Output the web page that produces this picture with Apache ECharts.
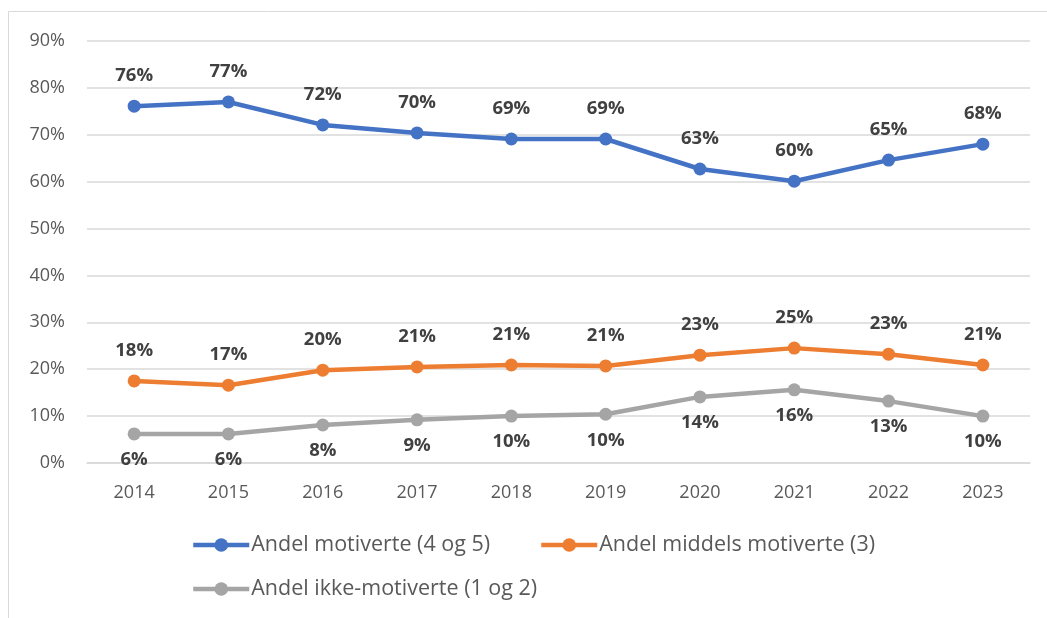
<!DOCTYPE html>
<html>
<head>
<meta charset="utf-8">
<script src="https://cdn.jsdelivr.net/npm/echarts@6/dist/echarts.min.js"></script>
<style>
  html, body { margin: 0; padding: 0; background: #fff; }
  #chart { width: 1047px; height: 618px; }
</style>
</head>
<body>
<div id="chart"></div>
<script>
// categories and values (in %)
var years = ['2014', '2015', '2016', '2017', '2018', '2019', '2020', '2021', '2022', '2023'];
var motiverte = [76.1, 77.0, 72.1, 70.4, 69.1, 69.1, 62.7, 60.1, 64.6, 68.0];
var middels = [17.5, 16.6, 19.8, 20.5, 20.9, 20.7, 23.0, 24.5, 23.2, 20.9];
var ikke = [6.2, 6.2, 8.1, 9.2, 10.0, 10.4, 14.1, 15.6, 13.2, 10.0];
var seriesNames = ['Andel motiverte (4 og 5)', 'Andel middels motiverte (3)', 'Andel ikke-motiverte (1 og 2)'];

var font = '"Open Sans", "Noto Sans", sans-serif';

var chart = echarts.init(document.getElementById('chart'));

function makeSeries(name, data, color, labelPos, dist) {
    return {
        name: name,
        type: 'line',
        data: data,
        symbol: 'circle',
        symbolSize: 13,
        lineStyle: { width: 4.5, color: color },
        itemStyle: { color: color },
        label: {
            show: true,
            position: labelPos,
            distance: dist,
            fontFamily: font,
            fontSize: 18.5,
            fontWeight: 'bold',
            color: '#404040',
            formatter: function (p) { return Math.round(p.value) + '%'; }
        },
        emphasis: { disabled: true },
        animation: false
    };
}

function legendAt(name, left, top) {
    return {
        data: [name],
        left: left,
        top: top,
        itemWidth: 56,
        itemHeight: 17,
        itemGap: 0,
        padding: 0,
        lineStyle: { width: 4.5 },
        textStyle: { fontFamily: font, fontSize: 21.5, color: '#595959', padding: [0, 0, 0, -3] }
    };
}

var option = {
    backgroundColor: '#fff',
    graphic: [{
        type: 'rect',
        shape: { x: 8.5, y: 11.5, width: 1100, height: 700 },
        style: { fill: 'none', stroke: '#d9d9d9', lineWidth: 1 },
        silent: true
    }],
    legend: [
        legendAt(seriesNames[0], 191, 534),
        legendAt(seriesNames[1], 539, 534),
        legendAt(seriesNames[2], 191, 578)
    ],
    grid: { left: 87, right: 17, top: 41, bottom: 155 },
    xAxis: {
        type: 'category',
        data: years,
        axisTick: { show: false },
        axisLine: { show: true, lineStyle: { color: '#d9d9d9', width: 1.5 } },
        axisLabel: { fontFamily: font, fontSize: 18, color: '#595959', margin: 21 }
    },
    yAxis: {
        type: 'value',
        min: 0,
        max: 90,
        interval: 10,
        axisLine: { show: false },
        axisTick: { show: false },
        splitLine: { lineStyle: { color: '#d9d9d9', width: 1.5 } },
        axisLabel: {
            fontFamily: font, fontSize: 18, color: '#595959', margin: 22,
            formatter: function (v) { return v + '%'; }
        }
    },
    series: [
        makeSeries(seriesNames[0], motiverte, '#4472C4', 'top', 14),
        makeSeries(seriesNames[1], middels, '#ED7D31', 'top', 14),
        makeSeries(seriesNames[2], ikke, '#A5A5A5', 'bottom', 10)
    ]
};

chart.setOption(option);
window.addEventListener('resize', function () {
    chart.resize();
});
</script>
</body>
</html>
